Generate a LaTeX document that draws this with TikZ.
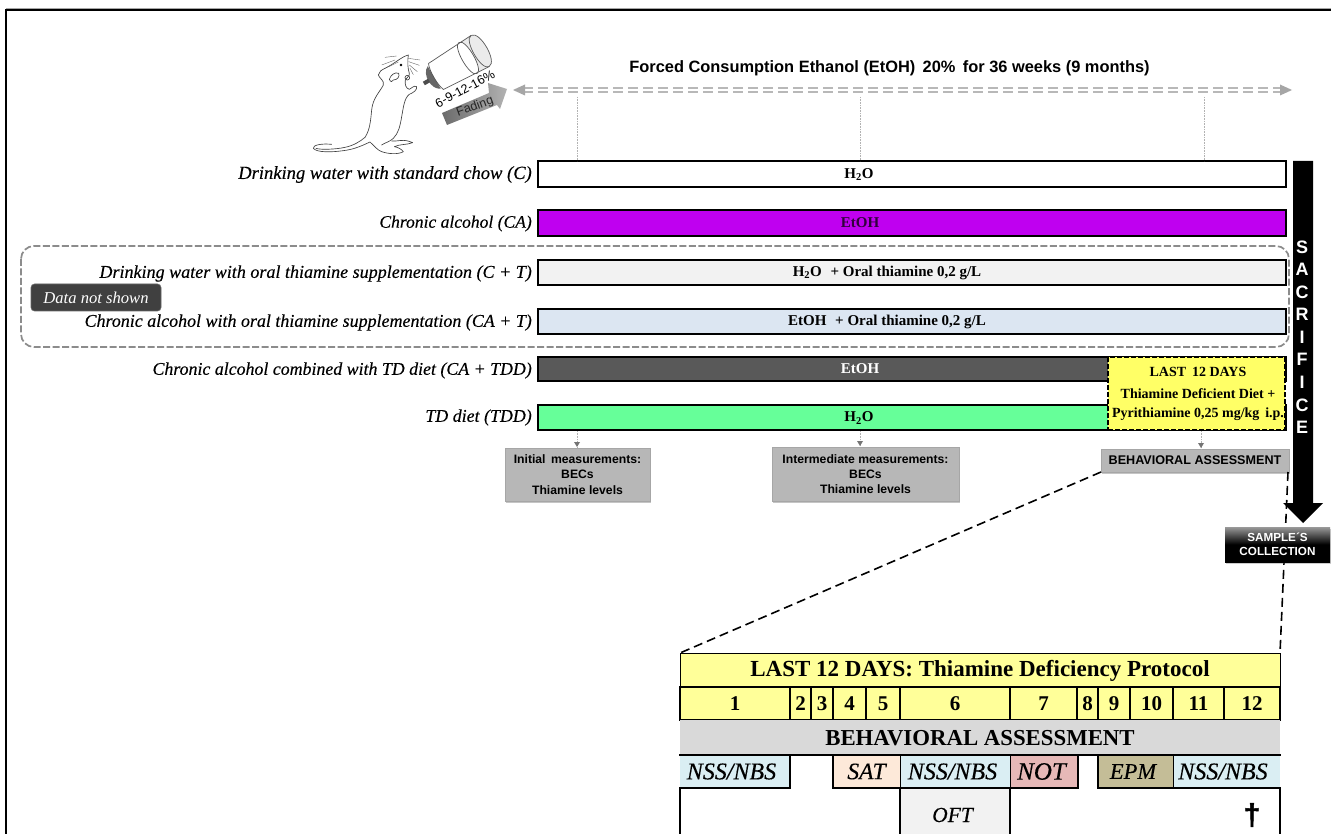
\documentclass[tikz,border=0pt]{standalone}
\usepackage{fontspec}
\setmainfont{Liberation Serif}
\setsansfont{Liberation Sans}
\usetikzlibrary{shadows,arrows.meta}
\newcommand\fsz[2]{\fontsize{#1}{#2}\selectfont}
\newcommand\heavy{\addfontfeature{FakeBold=0.3}}
\definecolor{cMag}{HTML}{BF00F0}
\definecolor{cDark}{HTML}{595959}
\definecolor{cGreen}{HTML}{66FF99}
\definecolor{cLt}{HTML}{F2F2F2}
\definecolor{cBlue}{HTML}{DCE6F2}
\definecolor{cYel}{HTML}{FFFF66}
\definecolor{cPale}{HTML}{FFFF99}
\definecolor{cGrayBox}{HTML}{B7B7B7}
\definecolor{cHead}{HTML}{D9D9D9}
\definecolor{cNss}{HTML}{DAEEF3}
\definecolor{cSat}{HTML}{FDE9D9}
\definecolor{cNot}{HTML}{E6B8B7}
\definecolor{cEpm}{HTML}{C4BD97}
\definecolor{cGuide}{HTML}{A6A6A6}
\tikzset{
  x=1pt,y=-1pt,
  bar/.style={draw=black,line width=2pt,anchor=north west,minimum width=748pt,inner sep=0pt,outer sep=0pt},
  bartext/.style={inner sep=0pt,font=\bfseries\fsz{15}{16}},
  lab/.style={anchor=east,inner sep=0pt},
  gbox/.style={draw=cGuide,line width=1pt,fill=cGrayBox,anchor=north west,inner sep=0pt,outer sep=0pt,align=center,
     font=\sffamily\bfseries\fsz{12.2}{15.2},drop shadow={shadow xshift=.5pt,shadow yshift=-2pt,opacity=.45}},
  guide/.style={draw=black!30,line width=.6pt,densely dotted},
  zoomline/.style={draw=black,line width=1.6pt,dash pattern=on 9pt off 5pt},
  cell/.style={draw=black,line width=2.2pt,anchor=north west,inner sep=0pt,outer sep=0pt},
  dayc/.style={cell,fill=cPale,minimum height=33pt,font=\bfseries\fsz{21}{24}},
  test/.style={anchor=north west,inner sep=0pt,outer sep=0pt,minimum height=33pt},
  tline/.style={draw=black,line width=2.6pt,line cap=rect},
  mouse/.style={draw=black!75,line width=.65pt,line join=round,line cap=round},
  letter/.style={text=white,inner sep=0pt,font=\sffamily\bfseries\fsz{18}{20}},
}
\newcommand\labf[1]{\itshape\fsz{#1}{20}\heavy}
\newcommand\testf[1]{\itshape\fsz{#1}{24}\heavy}
\begin{document}
\begin{tikzpicture}
\useasboundingbox (0,0) rectangle (1331,834);
\fill[white] (0,0) rectangle (1331,834);
% frame
\draw[cGuide,line width=.8pt] (6,8.5) -- (1331,8.5);
\draw[black,line width=2.2pt] (6,834) -- (6,10) -- (1331,10);

% mouse
\begin{scope}[shift={(300,30)},scale=1/3]
\draw[mouse] (255,115) .. controls (285,100) and (305,80) .. (325,75) .. controls (322,95) and (323,115) .. (328,130)
  .. controls (330,140) and (318,142) .. (316,150) .. controls (314,165) and (318,175) .. (328,178)
  .. controls (335,175) and (342,165) .. (350,170) .. controls (352,180) and (340,188) .. (328,193)
  .. controls (312,205) and (310,235) .. (305,260) .. controls (300,290) and (295,310) .. (280,325)
  .. controls (270,335) and (255,338) .. (245,345);
\draw[mouse] (275,333) .. controls (295,335) and (310,325) .. (338,338) .. controls (320,345) and (300,342) .. (283,350)
  .. controls (295,352) and (305,358) .. (310,365) .. controls (295,374) and (265,372) .. (245,365)
  .. controls (232,360) and (225,350) .. (210,336) .. controls (190,345) and (165,358) .. (130,362)
  .. controls (95,367) and (50,368) .. (40,355) .. controls (38,345) and (65,340) .. (95,343);
\draw[mouse] (48,355) .. controls (60,360) and (110,358) .. (135,352) .. controls (160,347) and (180,335) .. (195,322);
\draw[mouse] (195,322) .. controls (210,300) and (212,270) .. (215,240) .. controls (218,205) and (240,185) .. (250,165)
  .. controls (254,152) and (238,145) .. (235,135) .. controls (236,125) and (245,120) .. (255,115);
\draw[mouse] (268,148) .. controls (272,135) and (285,125) .. (296,130) .. controls (300,140) and (292,150) .. (280,150)
  .. controls (278,155) and (272,158) .. (268,148);
\draw[mouse] (322,143) circle[radius=7];
\fill[black] (303,105) circle[radius=4];
\foreach \a/\b/\c/\d in {255/82/290/78,245/105/285/90,262/112/295/96,325/85/360/90,326/95/358/106,328/105/352/125,330/115/340/134}
  \draw[black!60,line width=.4pt] (\a,\b) -- (\c,\d);
\end{scope}

% bottle
\begin{scope}[shift={(455,65.5)},rotate=30]
\fill[black!60] (-24,-13) .. controls (-33,-9) and (-33,9) .. (-24,13) -- cycle;
\fill[black!70] (-36,-2) rectangle (-30,2);
\fill[black!8] (15,-18) -- (29,-18) .. controls (39,-18) and (39,18) .. (29,18) -- (15,18) .. controls (23,18) and (23,-18) .. (15,-18) -- cycle;
\draw[black!65,line width=.7pt] (-22,-15) -- (29,-18) .. controls (39,-18) and (39,18) .. (29,18) -- (-22,15)
   .. controls (-25,8) and (-25,-8) .. (-22,-15);
\draw[black!65,line width=.7pt] (29,-18) .. controls (20,-18) and (20,18) .. (29,18);
\draw[black!65,line width=.7pt] (15,-18) .. controls (23,-18) and (23,18) .. (15,18) .. controls (7,18) and (7,-18) .. (15,-18);
\end{scope}
\shade[left color=black!58,right color=black!30] (442,113) -- (489,93) -- (488,83) -- (507,89) -- (500,109) -- (497,105) -- (447,125) -- cycle;
\node[rotate=28,inner sep=0pt,font=\sffamily\fsz{12.5}{14}] (fadepct) at (465,89) {6-9-12-16\%};
\node[rotate=20,inner sep=0pt,text=black!85,font=\sffamily\fsz{12.5}{14}] (fadelab) at (475,107) {Fading};

% top double arrow
\node[inner sep=0pt,font=\sffamily\bfseries\fsz{16.4}{18}] (title) at (889.5,68.5) {Forced Consumption Ethanol (EtOH)\, 20\%\, for 36 weeks (9 months)};
\coordinate (aL) at (513,90); \coordinate (aR) at (1292,90);
\draw[black!28,line width=1.3pt,dash pattern=on 10pt off 5pt] ([shift={(10,-1.9)}]aL) -- ([shift={(-10,-1.9)}]aR);
\draw[black!28,line width=1.3pt,dash pattern=on 10pt off 5pt] ([shift={(10,1.9)}]aL) -- ([shift={(-10,1.9)}]aR);
\fill[cGuide] (aL) -- ++(12,-5.5) -- ++(0,11) -- cycle;
\fill[cGuide] (aR) -- ++(-12,-5.5) -- ++(0,11) -- cycle;
\coordinate (gA) at (577,97); \coordinate (gB) at (860,97); \coordinate (gC) at (1204,97);

% bars
\node[bar,fill=white,minimum height=26pt] (bC) at (538,161) {};
\node[bar,fill=cMag,minimum height=26pt] (bCA) at (538,210) {};
\node[bar,fill=cLt,minimum height=25pt] (bCT) at (538,260) {};
\node[bar,fill=cBlue,minimum height=25pt] (bCAT) at (538,309) {};
\node[bar,fill=cDark,minimum height=24pt] (bTD) at (538,357) {};
\node[bar,fill=cGreen,minimum height=25pt] (bT) at (538,405) {};
\node[bartext] (tC) at (859,174.5) {H\textsubscript{2}O};
\node[bartext,text=black!75!cMag] (tCA) at (860,223) {EtOH};
\node[bartext] (tCT) at (887,272.5) {H\textsubscript{2}O\,\, + Oral thiamine 0,2 g/L};
\node[bartext] (tCAT) at (887,321.5) {EtOH\,\, + Oral thiamine 0,2 g/L};
\node[bartext,text=white] (tTD) at (860,369) {EtOH};
\node[bartext] (tT) at (859,418) {H\textsubscript{2}O};
\draw[guide] (gA) -- (gA |- bC.north);
\draw[guide] (gB) -- (gB |- bC.north);
\draw[guide] (gC) -- (gC |- bC.north);

% labels
\node[lab,font=\labf{18.55}] (lC) at (532,174.5) {Drinking water with standard chow (C)};
\node[lab,font=\labf{17.55}] (lCA) at (532,223.5) {Chronic alcohol (CA)};
\node[lab,font=\labf{18.05}] (lCT) at (532,273.5) {Drinking water with oral thiamine supplementation (C + T)};
\node[lab,font=\labf{17.95}] (lCAT) at (532,322.5) {Chronic alcohol with oral thiamine supplementation (CA + T)};
\node[lab,font=\labf{17.85}] (lTD) at (532,370.5) {Chronic alcohol combined with TD diet (CA + TDD)};
\node[lab,font=\labf{17.9}] (lT) at (532,417.5) {TD diet (TDD)};

% grouping frame
\draw[black!45,line width=1.7pt,dash pattern=on 7pt off 2.5pt,rounded corners=13pt] (21,246) rectangle (1289,347);
\node[draw=black!60,line width=.6pt,fill=black!75,rounded corners=3.5pt,text=white,minimum width=130pt,minimum height=27pt,inner sep=0pt,font=\itshape\fsz{16.6}{18}] (dns) at (96,297.5) {Data not shown};

% yellow box
\node[fill=cYel,draw=black,line width=1.8pt,dash pattern=on 5pt off 2pt,anchor=north west,minimum width=177pt,minimum height=73pt,inner sep=0pt,outer sep=0pt] (last) at (1108,357) {};
\node[inner sep=0pt,font=\bfseries\fsz{14}{16}] (lastA) at (1198,371.5) {LAST\, 12 DAYS};
\node[inner sep=0pt,font=\bfseries\fsz{14}{16}] (lastB) at (1198,394) {Thiamine Deficient Diet +};
\node[inner sep=0pt,font=\bfseries\fsz{14}{16}] (lastC) at (1198,414.5) {Pyrithiamine 0,25 mg/kg\, i.p.};

% measurement boxes
\node[gbox,minimum width=145pt,minimum height=53pt] (mI) at (505,448) {Initial\, measurements:\\BECs\\Thiamine levels};
\node[gbox,minimum width=187pt,minimum height=54pt] (mM) at (772,447) {Intermediate measurements:\\BECs\\Thiamine levels};
\node[gbox,minimum width=188pt,minimum height=23pt,font=\sffamily\bfseries\fsz{12.6}{15}] (mB) at (1101,449) {BEHAVIORAL ASSESSMENT};
\coordinate (g1) at (577,431); \coordinate (g2) at (860,431); \coordinate (g3) at (1201,431);
\foreach \g/\t in {g1/mI,g2/mM,g3/mB}{
  \draw[guide] (\g) -- (\g |- \t.north);
  \fill[cGuide!70!black] ([shift={(-3,-6)}]\g |- \t.north) -- ([shift={(3,-6)}]\g |- \t.north) -- ([shift={(0,-1)}]\g |- \t.north) -- cycle;
}

% table anchors and zoom lines
\coordinate (tL) at (680,653); \coordinate (tR) at (1280,653);
\draw[zoomline] (mB.south west) -- (tL);
\draw[zoomline] ([xshift=-1pt]mB.south east) -- (tR);

% sacrifice arrow
\fill[black] (1293,161) -- (1313,161) -- (1313,503) -- (1323,503) -- (1303,523) -- (1283,503) -- (1293,503) -- cycle;
\foreach \l/\y in {S/247,A/269.5,C/292,R/314.5,I/337,F/359,I/382,C/405,E/427}
  \node[letter] at (1302,\y) {\l};
\node[anchor=north west,minimum width=105pt,minimum height=35pt,inner sep=0pt,outer sep=0pt,top color=black!40,bottom color=black,middle color=black,text=white,align=center,font=\sffamily\bfseries\fsz{11.7}{14.5},drop shadow={shadow xshift=.5pt,shadow yshift=-2pt,opacity=.4}] (samp) at (1225,527) {SAMPLE´S\\COLLECTION};

% table
\node[cell,line width=1pt,fill=cPale,minimum width=600pt,minimum height=34pt] (tHead) at (680,653) {};
\node[inner sep=0pt,font=\bfseries\fsz{23}{24}] (tHeadT) at (980,670.5) {LAST 12 DAYS: Thiamine Deficiency Protocol};
\node[dayc,minimum width=110pt] (d1) at (680,687) {1};
\node[dayc,minimum width=21pt] (d2) at (790,687) {2};
\node[dayc,minimum width=22pt] (d3) at (811,687) {3};
\node[dayc,minimum width=33pt] (d4) at (833,687) {4};
\node[dayc,minimum width=34pt] (d5) at (866,687) {5};
\node[dayc,minimum width=110pt] (d6) at (900,687) {6};
\node[dayc,minimum width=67pt] (d7) at (1010,687) {7};
\node[dayc,minimum width=21pt] (d8) at (1077,687) {8};
\node[dayc,minimum width=32pt] (d9) at (1098,687) {9};
\node[dayc,minimum width=43pt] (d10) at (1130,687) {10};
\node[dayc,minimum width=51pt] (d11) at (1173,687) {11};
\node[dayc,minimum width=56pt] (d12) at (1224,687) {12};
\node[anchor=north west,inner sep=0pt,outer sep=0pt,fill=cHead,minimum width=600pt,minimum height=35pt] (tBeh) at (680,720) {};
\node[inner sep=0pt,font=\bfseries\fsz{22.8}{24}] (tBehT) at (980,738) {BEHAVIORAL ASSESSMENT};
\node[test,fill=cNss,minimum width=110pt,font=\testf{24}] (n1) at (680,755) {NSS/NBS\hspace*{7pt}};
\node[test,fill=cSat,minimum width=67pt,font=\testf{23.5}] (n2) at (833,755) {SAT};
\node[test,fill=cNss,minimum width=110pt,font=\testf{24}] (n3) at (900,755) {NSS/NBS\hspace*{5pt}};
\node[test,fill=cNot,minimum width=68pt,font=\testf{25}] (n4) at (1010,755) {NOT\hspace*{5pt}};
\node[test,fill=cEpm,minimum width=75pt,font=\testf{22.5}] (n5) at (1098,755) {EPM\hspace*{5pt}};
\node[test,fill=cNss,minimum width=107pt,font=\testf{24}] (n6) at (1173,755) {NSS/NBS\hspace*{7pt}};
\draw[tline] (n1.north west) -- (n6.north east);
\draw[tline] (n1.north east) -- (n1.south east) -- (n1.south west);
\draw[tline] (n2.north west) -- (n2.south west) -- (n4.south east) -- (n4.north east);
\draw[tline] (n5.north west) -- (n5.south west) -- (n6.south east);
\draw[black,line width=1pt] (n2.north east) -- (n2.south east);
\draw[black,line width=1pt] (n3.north east) -- (n3.south east);
\draw[black,line width=1pt] (n5.north east) -- (n5.south east);
\node[cell,fill=cLt,minimum width=110pt,minimum height=54pt,font=\testf{21.5}] (oft) at (900,788) {OFT\hspace*{5pt}};
\draw[black,line width=2.2pt] (680,788) -- (680,836);
\draw[black,line width=2.2pt] (1280,788) -- (1280,836);
\node[inner sep=0pt,font=\sffamily\bfseries\fsz{30}{30}\addfontfeature{FakeBold=1.5}] (cross) at (1252,815) {†};
\end{tikzpicture}
\end{document}
